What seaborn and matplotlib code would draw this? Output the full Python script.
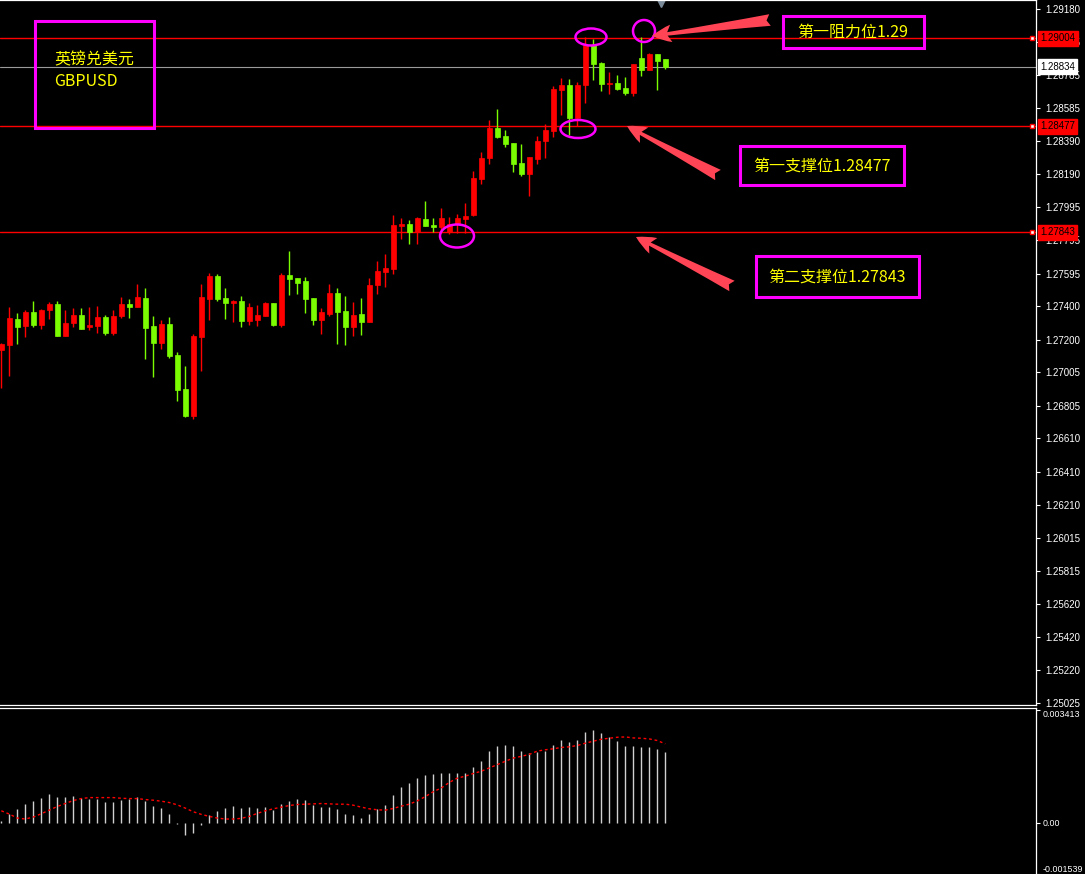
import matplotlib
matplotlib.use('Agg')
import matplotlib.pyplot as plt
from matplotlib.patches import Ellipse, Rectangle
from matplotlib.transforms import blended_transform_factory
import seaborn as sns
import numpy as np
import pandas as pd

# GBPUSD candles (red = up, green = down)
opens = [1.27138, 1.27168, 1.27324, 1.27282, 1.27366, 1.27288, 1.27378, 1.27414, 1.27222, 1.27300,
         1.27348, 1.27276, 1.27282, 1.27336, 1.27240, 1.27342, 1.27414, 1.27396, 1.27450, 1.27282,
         1.27180, 1.27294, 1.27109, 1.26905, 1.26743, 1.27216, 1.27444, 1.27581, 1.27450, 1.27420,
         1.27432, 1.27312, 1.27318, 1.27342, 1.27420, 1.27288, 1.27587, 1.27570, 1.27552, 1.27450,
         1.27318, 1.27354, 1.27480, 1.27372, 1.27276, 1.27354, 1.27306, 1.27528, 1.27605, 1.27623,
         1.27881, 1.27893, 1.27845, 1.27923, 1.27887, 1.27875, 1.27845, 1.27893, 1.27923, 1.27947,
         1.28162, 1.28288, 1.28468, 1.28420, 1.28378, 1.28258, 1.28192, 1.28282, 1.28390, 1.28450,
         1.28695, 1.28725, 1.28527, 1.28725, 1.28965, 1.28857, 1.28731, 1.28737, 1.28707, 1.28677,
         1.28887, 1.28815, 1.28911, 1.28881]
highs = [1.27180, 1.27396, 1.27360, 1.27378, 1.27432, 1.27384, 1.27426, 1.27432, 1.27378, 1.27390,
         1.27390, 1.27396, 1.27402, 1.27348, 1.27378, 1.27456, 1.27444, 1.27534, 1.27510, 1.27342,
         1.27318, 1.27336, 1.27126, 1.27043, 1.27234, 1.27534, 1.27599, 1.27593, 1.27510, 1.27438,
         1.27462, 1.27420, 1.27408, 1.27426, 1.27420, 1.27599, 1.27731, 1.27570, 1.27575, 1.27450,
         1.27390, 1.27534, 1.27510, 1.27462, 1.27426, 1.27450, 1.27570, 1.27671, 1.27713, 1.27947,
         1.27929, 1.27917, 1.27935, 1.28031, 1.27929, 1.27989, 1.27935, 1.27953, 1.28019, 1.28210,
         1.28324, 1.28515, 1.28581, 1.28456, 1.28378, 1.28372, 1.28294, 1.28420, 1.28492, 1.28719,
         1.28767, 1.28761, 1.28743, 1.29012, 1.29000, 1.28863, 1.28803, 1.28785, 1.28773, 1.28851,
         1.29012, 1.28917, 1.28911, 1.28881]
lows = [1.26911, 1.26983, 1.27174, 1.27216, 1.27276, 1.27264, 1.27324, 1.27222, 1.27222, 1.27276,
        1.27264, 1.27258, 1.27240, 1.27228, 1.27228, 1.27330, 1.27330, 1.27396, 1.27085, 1.26977,
        1.27144, 1.27091, 1.26833, 1.26737, 1.26725, 1.27013, 1.27318, 1.27432, 1.27324, 1.27306,
        1.27276, 1.27288, 1.27282, 1.27342, 1.27282, 1.27276, 1.27468, 1.27474, 1.27360, 1.27288,
        1.27234, 1.27342, 1.27174, 1.27168, 1.27222, 1.27228, 1.27306, 1.27474, 1.27516, 1.27593,
        1.27803, 1.27773, 1.27773, 1.27881, 1.27845, 1.27839, 1.27833, 1.27839, 1.27839, 1.27941,
        1.28132, 1.28252, 1.28408, 1.28354, 1.28204, 1.28180, 1.28060, 1.28252, 1.28288, 1.28414,
        1.28545, 1.28426, 1.28480, 1.28617, 1.28755, 1.28689, 1.28671, 1.28695, 1.28665, 1.28659,
        1.28779, 1.28815, 1.28695, 1.28821]
closes = [1.27174, 1.27330, 1.27276, 1.27366, 1.27288, 1.27378, 1.27414, 1.27222, 1.27300, 1.27348,
          1.27264, 1.27288, 1.27336, 1.27240, 1.27342, 1.27414, 1.27396, 1.27456, 1.27270, 1.27180,
          1.27294, 1.27103, 1.26899, 1.26743, 1.27222, 1.27456, 1.27581, 1.27444, 1.27420, 1.27432,
          1.27312, 1.27396, 1.27348, 1.27420, 1.27288, 1.27587, 1.27564, 1.27540, 1.27444, 1.27318,
          1.27366, 1.27480, 1.27366, 1.27276, 1.27348, 1.27306, 1.27528, 1.27611, 1.27629, 1.27887,
          1.27893, 1.27845, 1.27929, 1.27881, 1.27875, 1.27929, 1.27893, 1.27929, 1.27941, 1.28168,
          1.28288, 1.28468, 1.28414, 1.28372, 1.28252, 1.28192, 1.28294, 1.28390, 1.28456, 1.28701,
          1.28725, 1.28527, 1.28725, 1.28965, 1.28851, 1.28731, 1.28737, 1.28701, 1.28677, 1.28851,
          1.28815, 1.28911, 1.28869, 1.28834]

# MACD histogram and signal line
macd_hist = [0.00006, 0.000269, 0.000418, 0.000567, 0.000657, 0.000746, 0.000866, 0.000776, 0.000776, 0.000806,
             0.000746, 0.000716, 0.000716, 0.000627, 0.000627, 0.000687, 0.000716, 0.000776, 0.000657, 0.000507,
             0.000448, 0.000269, -0.00003, -0.000388, -0.000299, -0.00006, 0.000239, 0.000358, 0.000448, 0.000507,
             0.000448, 0.000478, 0.000448, 0.000478, 0.000388, 0.000567, 0.000657, 0.000716, 0.000687, 0.000537,
             0.000478, 0.000478, 0.000418, 0.000269, 0.000239, 0.000149, 0.000269, 0.000418, 0.000537, 0.000836,
             0.001075, 0.001194, 0.001343, 0.001433, 0.001463, 0.001493, 0.001493, 0.001493, 0.001493, 0.001672,
             0.001851, 0.002149, 0.002299, 0.002358, 0.002299, 0.002149, 0.00209, 0.002119, 0.002149, 0.002358,
             0.002507, 0.002448, 0.002507, 0.002746, 0.002806, 0.002716, 0.002597, 0.002478, 0.002328, 0.002328,
             0.002269, 0.002269, 0.002209, 0.002119]
macd_signal = [0.000358, 0.000259, 0.000139, 0.000109, 0.000169, 0.000269, 0.000378, 0.000488, 0.000577, 0.000667,
               0.000726, 0.000756, 0.000756, 0.000756, 0.000756, 0.000736, 0.000726, 0.000726, 0.000697, 0.000677,
               0.000647, 0.000607, 0.000537, 0.000438, 0.000328, 0.000249, 0.000189, 0.000139, 0.000109, 0.000109,
               0.000129, 0.000189, 0.000279, 0.000358, 0.000418, 0.000468, 0.000517, 0.000547, 0.000557, 0.000567,
               0.000577, 0.000567, 0.000557, 0.000557, 0.000527, 0.000468, 0.000418, 0.000388, 0.000378, 0.000428,
               0.000498, 0.000557, 0.000657, 0.000786, 0.000935, 0.001045, 0.001214, 0.001343, 0.001403, 0.001483,
               0.001552, 0.001652, 0.001751, 0.001851, 0.00195, 0.002, 0.00206, 0.002159, 0.002199, 0.002229,
               0.002269, 0.002289, 0.002328, 0.002398, 0.002458, 0.002517, 0.002547, 0.002577, 0.002587, 0.002557,
               0.002547, 0.002527, 0.002478, 0.002378]

price_ticks = [1.29180, 1.28985, 1.28785, 1.28585, 1.28390, 1.28190, 1.27995, 1.27795, 1.27595, 1.27400,
               1.27200, 1.27005, 1.26805, 1.26610, 1.26410, 1.26210, 1.26015, 1.25815, 1.25620, 1.25420,
               1.25220, 1.25025]
macd_ticks = [0.003413, 0.0, -0.001539]
macd_tick_labels = ['0.003413', '0.00', '-0.001539']

level_values = [1.29004, 1.28477, 1.27843]
last_price = 1.28834

title_lines = ['英镑兑美元', 'GBPUSD']
level_texts = ['第一阻力位1.29', '第一支撑位1.28477', '第二支撑位1.27843']

sns.set_theme(style='dark', rc={'axes.facecolor': 'black', 'figure.facecolor': 'black'})
plt.rcParams['font.family'] = ['Noto Sans CJK SC', 'DejaVu Sans']

df = pd.DataFrame({'open': opens, 'high': highs, 'low': lows, 'close': closes})
df['x'] = np.arange(len(df))
up = df['close'] >= df['open']
colors = np.where(up, '#FF0000', '#7CFC00')

fig = plt.figure(figsize=(10.85, 8.74), dpi=100, facecolor='black')
ax = fig.add_axes([0, 1 - 705 / 874, 1036 / 1085, 705 / 874])
ax2 = fig.add_axes([0, 0, 1036 / 1085, 166 / 874])
for a in (ax, ax2):
    a.set_facecolor('black')
    a.grid(False)
    for s in a.spines.values():
        s.set_visible(False)
    for side in ('right', 'top'):
        a.spines[side].set_visible(True)
        a.spines[side].set_color('white')
        a.spines[side].set_linewidth(0.9)
ax.spines['bottom'].set_visible(True)
ax.spines['bottom'].set_color('white')
ax.spines['bottom'].set_linewidth(0.9)

# candles
ax.vlines(df['x'], df['low'], df['high'], colors=colors, lw=1, zorder=3)
body_bottom = np.minimum(df['open'], df['close'])
body_h = np.maximum((df['close'] - df['open']).abs(), 0.00002)
ax.bar(df['x'], body_h, bottom=body_bottom, width=0.62, color=colors,
       edgecolor=colors, linewidth=0.5, zorder=4)

ax.set_xlim(-0.1625, 129.34)
ax.set_ylim(1.25013, 1.29234)
ax.set_xticks([])
ax.yaxis.tick_right()
ax.set_yticks(price_ticks)
ax.set_yticklabels([f'{v:.5f}' for v in price_ticks])
ax.tick_params(axis='y', colors='white', labelsize=7, length=3, width=0.8, pad=4,
               labelfontfamily='Liberation Sans')

# levels
btrans = blended_transform_factory(ax.transAxes, ax.transData)
for v in level_values:
    ax.axhline(v, color='red', lw=1, zorder=2)
    ax.annotate(f'{v:.5f}', xy=(1, v), xycoords=btrans, xytext=(3, 0), textcoords='offset points',
                va='center', ha='left', fontsize=7, color='black', family='Liberation Sans',
                bbox=dict(boxstyle='square,pad=0.25', fc='red', ec='red'), annotation_clip=False, zorder=10)
    ax.plot([0.9965], [v], marker='s', ms=3.5, mfc='white', mec='red', mew=1,
            transform=btrans, clip_on=False, zorder=11)
ax.axhline(last_price, color='#9A9A9A', lw=0.8, zorder=2)
ax.annotate(f'{last_price:.5f}', xy=(1, last_price), xycoords=btrans, xytext=(3, 0),
            textcoords='offset points', va='center', ha='left', fontsize=7, color='black',
            family='Liberation Sans', bbox=dict(boxstyle='square,pad=0.25', fc='white', ec='white'),
            annotation_clip=False, zorder=10)


def frac(x, y):
    return (x / 1036, 1 - y / 705)


ax.plot(*frac(661, 3), marker='v', color='#7A8A99', ms=6, transform=ax.transAxes, clip_on=False)

# annotation boxes
mag = '#FF00FF'
yel = '#FFFF00'
boxes = [(35, 21, 154, 128), (783, 16, 924, 48), (740, 146, 904, 185), (756, 256, 919, 297)]
for x0, y0, x1, y1 in boxes:
    ax.add_patch(Rectangle(frac(x0, y1), (x1 - x0) / 1036, (y1 - y0) / 705, transform=ax.transAxes,
                           fill=False, ec=mag, lw=2.2, zorder=8, clip_on=False))
ax.text(*frac(54, 60), title_lines[0], transform=ax.transAxes, color=yel, fontsize=11.5,
        ha='left', va='center', zorder=9)
ax.text(*frac(54, 81), title_lines[1], transform=ax.transAxes, color=yel, fontsize=11.5,
        ha='left', va='center', zorder=9)
for (cx, cy), s in zip([(853, 32), (822, 166), (837, 277)], level_texts):
    ax.text(*frac(cx, cy), s, transform=ax.transAxes, color=yel, fontsize=11.5,
            ha='center', va='center', zorder=9)

# arrows
arrows = [((770, 20), (652, 36)), ((718, 175), (627, 126)), ((732, 286), (636, 237))]
for tail, head in arrows:
    ax.annotate('', xy=frac(*head), xytext=frac(*tail), xycoords='axes fraction',
                arrowprops=dict(arrowstyle='fancy,head_length=1.0,head_width=0.9,tail_width=0.6',
                                fc='#FF4455', ec='none', shrinkA=0, shrinkB=0, mutation_scale=14),
                zorder=9)

# ellipses
ellipses = [(591, 37, 31, 17), (644, 31, 22, 22), (578, 129, 35, 18), (457, 236, 34, 23)]
for cx, cy, w, h in ellipses:
    ax.add_patch(Ellipse(frac(cx, cy), w / 1036, h / 705, transform=ax.transAxes,
                         fill=False, ec=mag, lw=1.8, zorder=8))

# MACD pane
ax2.vlines(df['x'], 0, macd_hist, colors='#D0D0D0', lw=1.0)
sns.lineplot(x=df['x'], y=macd_signal, ax=ax2, color='red', lw=1, linestyle=(0, (2, 2)))
ax2.set_xlim(-0.1625, 129.34)
ax2.set_ylim(-0.00155, 0.00346)
ax2.set_xticks([])
ax2.set_xlabel('')
ax2.set_ylabel('')
ax2.yaxis.tick_right()
ax2.set_yticks(macd_ticks)
ax2.set_yticklabels(macd_tick_labels)
ax2.tick_params(axis='y', colors='white', labelsize=6.4, length=3, width=0.8, pad=2,
                labelfontfamily='Liberation Sans')
labs = ax2.get_yticklabels()
labs[0].set_va('top')
labs[2].set_va('bottom')

fig.savefig('out.png', dpi=100, facecolor='black')
